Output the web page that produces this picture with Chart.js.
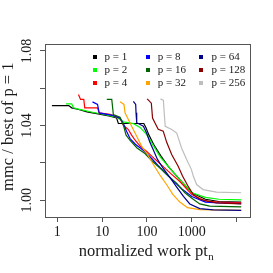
<!DOCTYPE html>
<html>
<head>
<meta charset="utf-8">
<script src="https://cdn.jsdelivr.net/npm/chart.js@4.4.1/dist/chart.umd.min.js"></script>
<style>
  html, body { margin: 0; padding: 0; background: #fff; }
</style>
</head>
<body>
<canvas id="myChart" width="273" height="273"></canvas>
<script>
// series labels and colours (R palette)
const seriesLabels = ['p = 1', 'p = 2', 'p = 4', 'p = 8', 'p = 16', 'p = 32', 'p = 64', 'p = 128', 'p = 256'];
const seriesColors = ['#000000', '#00ff00', '#ff0000', '#0000ff', '#006400', '#ffa500', '#00008b', '#8b0000', '#bebebe'];

// normalized work (x) and mmc / best of p = 1 (y)
const work1 = [0.76, 1.8, 2.1, 3.0, 4.6, 7.6, 15, 21, 23, 85, 95, 110, 140, 200, 300, 540, 1000, 2000, 4000, 12600];
const mmc1  = [1.0507, 1.0507, 1.0495, 1.0486, 1.0473, 1.0464, 1.0450, 1.0441, 1.0411, 1.0411, 1.0388, 1.0350, 1.0300, 1.0240, 1.0180, 1.0110, 1.0040, 1.0005, 0.9993, 0.9990];

const work2 = [1.56, 2.1, 2.3, 3.0, 6.4, 10, 21, 30, 50, 70, 100, 140, 200, 300, 540, 1000, 2000, 4000, 12600];
const mmc2  = [1.0516, 1.0516, 1.0495, 1.0488, 1.0470, 1.0462, 1.0445, 1.0420, 1.0410, 1.0390, 1.0350, 1.0290, 1.0230, 1.0180, 1.0110, 1.0040, 1.0015, 1.0005, 1.0002];

const work3 = [2.97, 3.3, 3.9, 4.1, 7.9, 8.6, 15, 25, 30, 38, 45, 55, 70, 100, 150, 230, 350, 540, 1000, 2000, 4000, 12600];
const mmc3  = [1.0566, 1.0540, 1.0540, 1.0495, 1.0495, 1.0468, 1.0460, 1.0440, 1.0400, 1.0380, 1.0350, 1.0320, 1.0290, 1.0260, 1.0220, 1.0180, 1.0140, 1.0100, 1.0030, 0.9995, 0.9990, 0.9986];

const work4 = [6.1, 7.9, 8.6, 16.9, 25, 30, 35, 42, 55, 80, 120, 170, 270, 400, 600, 1000, 2000, 4000, 12600];
const mmc4  = [1.0527, 1.0513, 1.0468, 1.0455, 1.0440, 1.0410, 1.0370, 1.0330, 1.0300, 1.0270, 1.0230, 1.0190, 1.0140, 1.0100, 1.0060, 1.0020, 0.9990, 0.9985, 0.9982];

const work5 = [12.7, 16.4, 17.8, 25, 30, 34, 42, 60, 90, 130, 200, 300, 460, 700, 1000, 1500, 2500, 12600];
const mmc5  = [1.0540, 1.0540, 1.0459, 1.0445, 1.0400, 1.0350, 1.0320, 1.0280, 1.0250, 1.0210, 1.0170, 1.0130, 1.0090, 1.0040, 1.0010, 0.9980, 0.9968, 0.9964];

const work6 = [25, 30.7, 32.4, 38.5, 45.5, 59, 70, 80, 100, 140, 200, 280, 380, 540, 800, 1500, 12600];
const mmc6  = [1.0527, 1.0513, 1.0468, 1.0432, 1.0396, 1.0343, 1.0307, 1.0280, 1.0250, 1.0190, 1.0130, 1.0080, 1.0030, 0.9990, 0.9960, 0.9950, 0.9946];

const work7 = [49.6, 56, 57, 59, 83, 98, 116, 138, 170, 230, 330, 460, 650, 900, 1500, 3000, 12600];
const mmc7  = [1.0530, 1.0513, 1.0468, 1.0415, 1.0396, 1.0360, 1.0310, 1.0270, 1.0220, 1.0170, 1.0120, 1.0070, 1.0020, 0.9980, 0.9955, 0.9948, 0.9946];

const work8 = [101, 125, 133, 150, 178, 230, 275, 355, 495, 620, 800, 1075, 1500, 3500, 12600];
const mmc8  = [1.0543, 1.0520, 1.0440, 1.0415, 1.0380, 1.0370, 1.0310, 1.0245, 1.0182, 1.0130, 1.0080, 1.0030, 1.0005, 0.9986, 0.9980];

const work9 = [200, 232, 245, 255, 355, 460, 590, 765, 980, 1075, 1280, 1780, 3540, 12600];
const mmc9  = [1.0543, 1.0535, 1.0450, 1.0396, 1.0379, 1.0360, 1.0280, 1.0218, 1.0164, 1.0130, 1.0084, 1.0057, 1.0043, 1.0040];

const workSeries = [work1, work2, work3, work4, work5, work6, work7, work8, work9];
const mmcSeries  = [mmc1, mmc2, mmc3, mmc4, mmc5, mmc6, mmc7, mmc8, mmc9];

// axis ticks
const xTicks = [1, 10, 100, 1000, 10000];
const xTickLabels = ['1', '10', '100', '1000', ''];
const yTicks = [1.00, 1.02, 1.04, 1.06, 1.08];
const yTickLabels = ['1.00', '', '1.04', '', '1.08'];

const axisColor = '#555555';
const textColor = '#1a1a1a';
const serif = '"Liberation Serif", "Times New Roman", serif';

// R style box, rotated y labels, titles and the inset legend
const extras = {
  id: 'extras',
  afterDraw(chart) {
    const { ctx, chartArea: a, scales } = chart;
    ctx.save();
    ctx.strokeStyle = axisColor;
    ctx.lineWidth = 1;
    ctx.strokeRect(Math.round(a.left) + 0.5, Math.round(a.top) + 0.5,
                   Math.round(a.right - a.left), Math.round(a.bottom - a.top));

    ctx.fillStyle = textColor;
    ctx.font = '14px ' + serif;
    ctx.textAlign = 'center';
    ctx.textBaseline = 'middle';
    yTicks.forEach((v, i) => {
      if (!yTickLabels[i]) return;
      const y = scales.y.getPixelForValue(v);
      ctx.save();
      ctx.translate(27, y);
      ctx.rotate(-Math.PI / 2);
      ctx.fillText(yTickLabels[i], 0, 0);
      ctx.restore();
    });

    // y title
    ctx.font = '16.5px ' + serif;
    ctx.textBaseline = 'alphabetic';
    ctx.save();
    ctx.translate(13.3, 126.7);
    ctx.rotate(-Math.PI / 2);
    ctx.fillText('mmc / best of p = 1', 0, 0);
    ctx.restore();

    // x title with subscript n
    const main = 'normalized work pt';
    ctx.font = '16.5px ' + serif;
    const wMain = ctx.measureText(main).width;
    ctx.font = '11px ' + serif;
    const wSub = ctx.measureText('n').width;
    const x0 = 146 - (wMain + wSub) / 2;
    ctx.textAlign = 'left';
    ctx.font = '16.5px ' + serif;
    ctx.fillText(main, x0, 256);
    ctx.font = '11px ' + serif;
    ctx.fillText('n', x0 + wMain + 0.5, 259.5);

    // legend, three columns of three
    const colSquare = [95, 148, 201];
    const colText = [104.5, 157.7, 211.5];
    const rowY = [57, 70, 83];
    ctx.font = '11px ' + serif;
    ctx.textBaseline = 'middle';
    seriesLabels.forEach((lab, i) => {
      const c = Math.floor(i / 3), r = i % 3;
      ctx.fillStyle = seriesColors[i];
      ctx.fillRect(colSquare[c] - 2, rowY[r] - 2, 4, 4);
      ctx.fillStyle = textColor;
      ctx.fillText(lab, colText[c], rowY[r] + 0.5);
    });
    ctx.restore();
  }
};

const ctx = document.getElementById('myChart');
new Chart(ctx, {
  type: 'line',
  data: {
    datasets: seriesLabels.map((lab, i) => ({
      label: lab,
      data: workSeries[i].map((x, j) => ({ x: x, y: mmcSeries[i][j] })),
      borderColor: seriesColors[i],
      backgroundColor: seriesColors[i],
      borderWidth: 1.2,
      pointRadius: 0,
      tension: 0,
      fill: false,
      order: seriesLabels.length - i
    }))
  },
  options: {
    responsive: false,
    animation: false,
    layout: { padding: { top: 44, right: 23, left: 0, bottom: 0 } },
    plugins: { legend: { display: false }, tooltip: { enabled: false } },
    scales: {
      x: {
        type: 'logarithmic',
        min: 0.533,
        max: 19770,
        afterBuildTicks: s => { s.ticks = xTicks.map(v => ({ value: v })); },
        afterFit: s => { s.height = 56; },
        ticks: {
          autoSkip: false,
          maxRotation: 0,
          padding: 2,
          color: textColor,
          font: { family: serif, size: 14 },
          callback: (v, i) => xTickLabels[i]
        },
        grid: { drawOnChartArea: false, drawTicks: true, tickLength: 5, color: axisColor },
        border: { display: true, color: axisColor }
      },
      y: {
        min: 0.991,
        max: 1.0837,
        afterBuildTicks: s => { s.ticks = yTicks.map(v => ({ value: v })); },
        afterFit: s => { s.width = 45; },
        ticks: { display: false },
        grid: { drawOnChartArea: false, drawTicks: true, tickLength: 5, color: axisColor },
        border: { display: true, color: axisColor }
      }
    }
  },
  plugins: [extras]
});
</script>
</body>
</html>
